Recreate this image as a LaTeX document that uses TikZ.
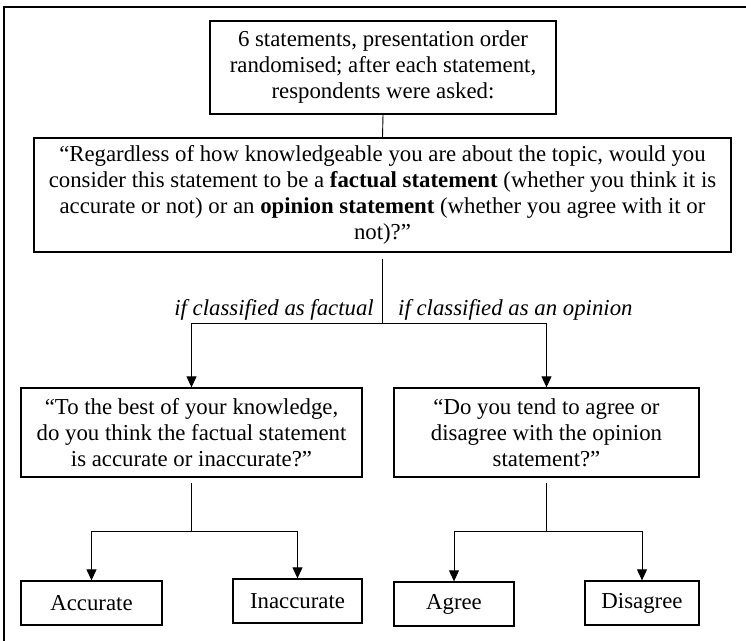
\documentclass[tikz,border=0pt]{standalone}
\usepackage{fontspec}
\setmainfont{Liberation Serif}
\usetikzlibrary{arrows.meta}

\begin{document}
\begin{tikzpicture}[x=1pt, y=-1pt,
  box/.style={draw, line width=1.3pt, align=center, inner sep=0pt,
    font=\fontsize{22.8}{26}\selectfont},
  label text/.style={font=\fontsize{22.8}{26}\selectfont\itshape, inner sep=0pt},
  link/.style={line width=0.9pt},
  arrow/.style={line width=0.9pt, -{Triangle[length=11pt, width=10pt]}}]
\useasboundingbox (0,0) rectangle (746,640);

% frame
\draw[line width=1.6pt] (4,660) -- (4,7) -- (760,7);

% top
\node[box, minimum width=346pt, minimum height=93pt] (intro) at (383,67.5)
  {6 statements, presentation order\\ randomised; after each statement,\\ respondents were asked:};

% question
\node[box, minimum width=697pt, minimum height=114pt] (question) at (382.5,195)
  {``Regardless of how knowledgeable you are about the topic, would you\\
   consider this statement to be a \textbf{factual statement} (whether you think it is\\
   accurate or not) or an \textbf{opinion statement} (whether you agree with it or\\
   not)?''};

% second level
\node[box, minimum width=341pt, minimum height=89pt] (fact) at (191.5,432.5)
  {``To the best of your knowledge,\\ do you think the factual statement\\ is accurate or inaccurate?''};
\node[box, minimum width=305pt, minimum height=89pt] (opinion) at (546.5,432.5)
  {``Do you tend to agree or\\ disagree with the opinion\\ statement?''};

% answers
\node[box, minimum width=141pt, minimum height=44pt] (acc) at (91.5,603)
  {Accurate};
\node[box, minimum width=129pt, minimum height=44pt] (inacc) at (297.5,601)
  {Inaccurate};
\node[box, minimum width=120pt, minimum height=44pt] (agree) at (454,604)
  {Agree};
\node[box, minimum width=114pt, minimum height=44pt] (disagree) at (642,603)
  {Disagree};

% split points
\coordinate (s0) at (382.5,323);
\coordinate (s1) at (191.5,531);
\coordinate (s2) at (546.5,531);

% branch labels
\node[label text, anchor=east] (lfact) at (374,310) {if classified as factual};
\node[label text, anchor=west] (lopin) at (398,310) {if classified as an opinion};

% top -> question
\draw[link] (intro.south) -- (question.north);

% question -> fact / opinion
\draw[link, shorten <=6pt] (question.south) -- (s0);
\draw[arrow] (s0) -| (fact.north);
\draw[arrow] (s0) -| (opinion.north);

% fact -> answers
\draw[link, shorten <=5pt] (fact.south) -- (s1);
\draw[arrow] (s1) -| (acc.north);
\draw[arrow] (s1) -| (inacc.north);

% opinion -> answers
\draw[link, shorten <=5pt] (opinion.south) -- (s2);
\draw[arrow] (s2) -| (agree.north);
\draw[arrow] (s2) -| (disagree.north);

\end{tikzpicture}
\end{document}
